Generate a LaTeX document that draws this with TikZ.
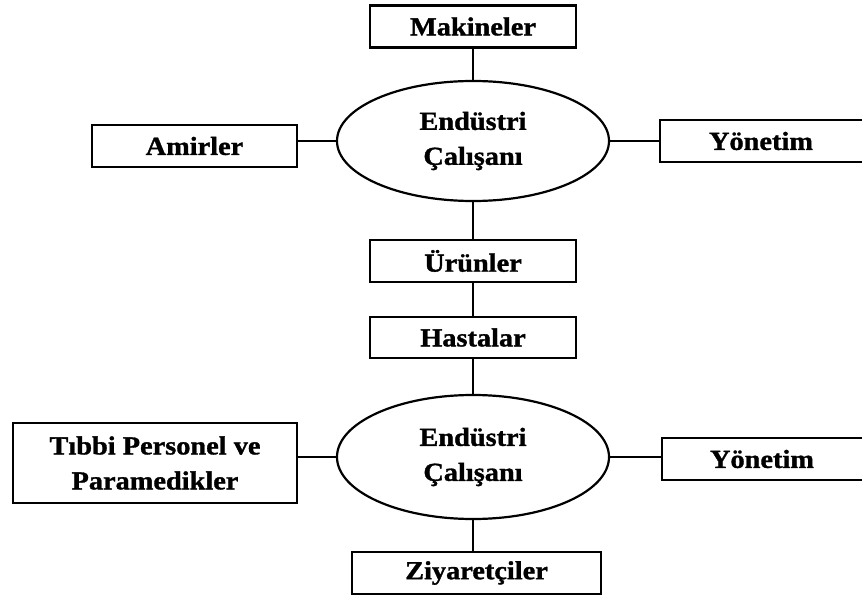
\documentclass[tikz,border=0pt]{standalone}
\usepackage{fontspec}
\setmainfont{Liberation Serif}[FakeStretch=1.09, FakeBold=1.2]
\usetikzlibrary{shapes.geometric}
\begin{document}
\begin{tikzpicture}[x=1pt,y=-1pt,
  every node/.style={font=\fontsize{26}{35}\selectfont\bfseries, align=center, inner sep=0pt},
  box/.style={draw, line width=2.2pt, rectangle},
  hub/.style={draw, line width=2.2pt, ellipse, minimum width=272pt, minimum height=120pt},
  link/.style={line width=2.2pt}]
\useasboundingbox (0,0) rectangle (862,596);
% central figures
\node[hub] (e1) at (473,141) {Endüstri\\Çalışanı};
\node[hub, minimum height=124pt] (e2) at (473,457) {Endüstri\\Çalışanı};
% surrounding boxes
\node[box, minimum width=206pt, minimum height=42pt] (mak) at (473,26.5) {Makineler};
\node[box, minimum width=205pt, minimum height=42pt] (ami) at (194.5,146) {Amirler};
\node[box, minimum width=220pt, minimum height=42pt] (yon1) at (770,141) {\hspace*{-18pt}Yönetim};
\node[box, minimum width=206pt, minimum height=42pt] (uru) at (473,261) {Ürünler};
\node[box, minimum width=206pt, minimum height=41pt] (has) at (473,337.5) {Hastalar};
\node[box, minimum width=284pt, minimum height=80pt] (tib) at (155,463) {Tıbbi Personel ve\\Paramedikler};
\node[box, minimum width=218pt, minimum height=42pt] (yon2) at (771,459) {\hspace*{-18pt}Yönetim};
\node[box, minimum width=249pt, minimum height=42pt] (ziy) at (476.5,573) {Ziyaretçiler};
% connectors
\draw[link] (mak) -- (e1);
\draw[link] (e1.west) -- (e1.west -| ami.east);
\draw[link] (e1.east) -- (e1.east -| yon1.west);
\draw[link] (e1) -- (uru);
\draw[link] (uru) -- (has);
\draw[link] (has) -- (e2);
\draw[link] (e2.west) -- (e2.west -| tib.east);
\draw[link] (e2.east) -- (e2.east -| yon2.west);
\draw[link] (e2.south) -- (e2.south |- ziy.north);
\end{tikzpicture}
\end{document}
